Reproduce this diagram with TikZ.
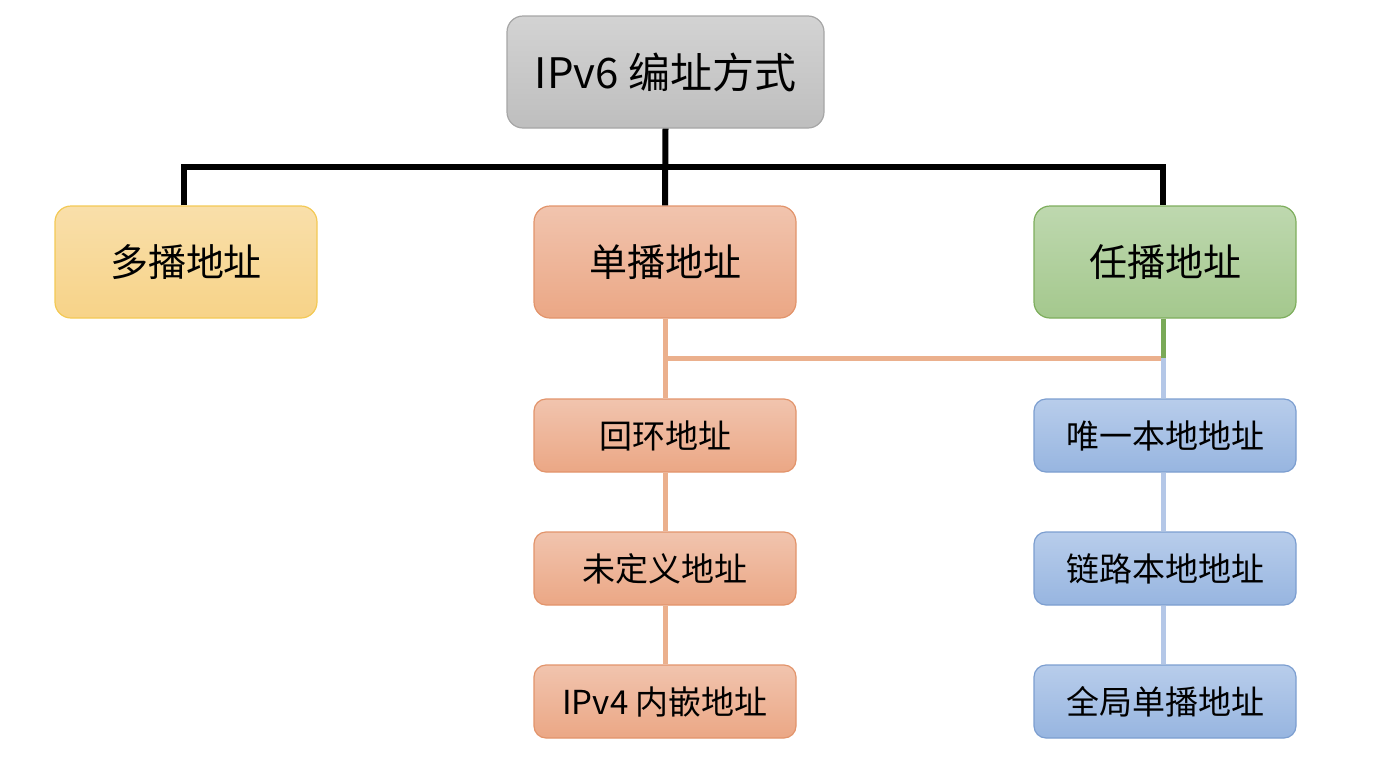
\documentclass[tikz,border=0pt]{standalone}
\usepackage{fontspec}
\setmainfont{Noto Sans CJK SC}
\definecolor{rootfill}{HTML}{D3D3D3}
\definecolor{rootshade}{HTML}{BEBEBE}
\definecolor{rootline}{HTML}{A6A6A6}
\definecolor{multifill}{HTML}{F9DFAA}
\definecolor{multishade}{HTML}{F7D388}
\definecolor{multiline}{HTML}{F3C955}
\definecolor{unifill}{HTML}{F1C4AE}
\definecolor{unishade}{HTML}{EBA785}
\definecolor{uniline}{HTML}{E2946B}
\definecolor{anyfill}{HTML}{BED8AF}
\definecolor{anyshade}{HTML}{A4C88D}
\definecolor{anyline}{HTML}{7EAE5D}
\definecolor{bluefill}{HTML}{B8CDEB}
\definecolor{blueshade}{HTML}{97B5E0}
\definecolor{blueline}{HTML}{7C9ED0}
\definecolor{unilink}{HTML}{EBB08D}
\definecolor{anylink}{HTML}{79A957}
\definecolor{bluelink}{HTML}{B4C7E7}
\usetikzlibrary{positioning}
\tikzset{
  box/.style={rounded corners=8pt, inner sep=0pt, line width=0.6pt,
    minimum width=131pt, minimum height=56pt, font=\fontsize{19}{22}\selectfont},
  subbox/.style={box, rounded corners=6pt, minimum height=36.5pt,
    font=\fontsize{16.5}{20}\selectfont},
  rootbox/.style={box, minimum width=158.5pt, draw=rootline,
    top color=rootfill, bottom color=rootshade, font=\fontsize{21}{25}\selectfont},
  multibox/.style={draw=multiline, top color=multifill, bottom color=multishade},
  unibox/.style={draw=uniline, top color=unifill, bottom color=unishade},
  anybox/.style={draw=anyline, top color=anyfill, bottom color=anyshade},
  bluebox/.style={draw=blueline, top color=bluefill, bottom color=blueshade},
  bus/.style={line width=3pt, black},
  link/.style={line width=2.5pt}
}
\begin{document}
\begin{tikzpicture}[x=0.5pt, y=-0.5pt]
    \useasboundingbox (0,0) rectangle (1388,766);
    % Root
    \node[rootbox] (root) at (665.5,72) {IPv6 编址方式};
    % Three address kinds
    \node[box, multibox] (multi) at (186,262) {多播地址};
    \node[box, unibox] (uni) at (665,262) {单播地址};
    \node[box, anybox] (any) at (1165,262) {任播地址};
    % Unicast column
    \node[subbox, unibox] (loop) at (665,435.5) {回环地址};
    \node[subbox, unibox] (unspec) at (665,568.5) {未定义地址};
    \node[subbox, unibox] (embed) at (665,701.5) {IPv4 内嵌地址};
    % Right column
    \node[subbox, bluebox] (ula) at (1165,435.5) {唯一本地地址};
    \node[subbox, bluebox] (linklocal) at (1165,568.5) {链路本地地址};
    \node[subbox, bluebox] (global) at (1165,701.5) {全局单播地址};
    % Black bus
    \coordinate (top) at (665,167);
    \draw[bus] (root.south) -- (uni.north);
    \draw[bus] ([xshift=-1pt]multi.north) |- (top) -| ([xshift=-1pt]any.north);
    % Lower links
    \coordinate (junc) at (1163,358);
    \draw[link, unilink] (uni.south) -- (loop.north);
    \draw[link, unilink] (loop.south) -- (unspec.north);
    \draw[link, unilink] (unspec.south) -- (embed.north);
    \draw[link, unilink] (uni.south |- junc) -- (junc);
    \draw[link, anylink] (any.south -| junc) -- (junc);
    \draw[link, bluelink] (junc) -- (ula.north -| junc);
    \draw[link, bluelink] (ula.south -| junc) -- (linklocal.north -| junc);
    \draw[link, bluelink] (linklocal.south -| junc) -- (global.north -| junc);
  \end{tikzpicture}
\end{document}
